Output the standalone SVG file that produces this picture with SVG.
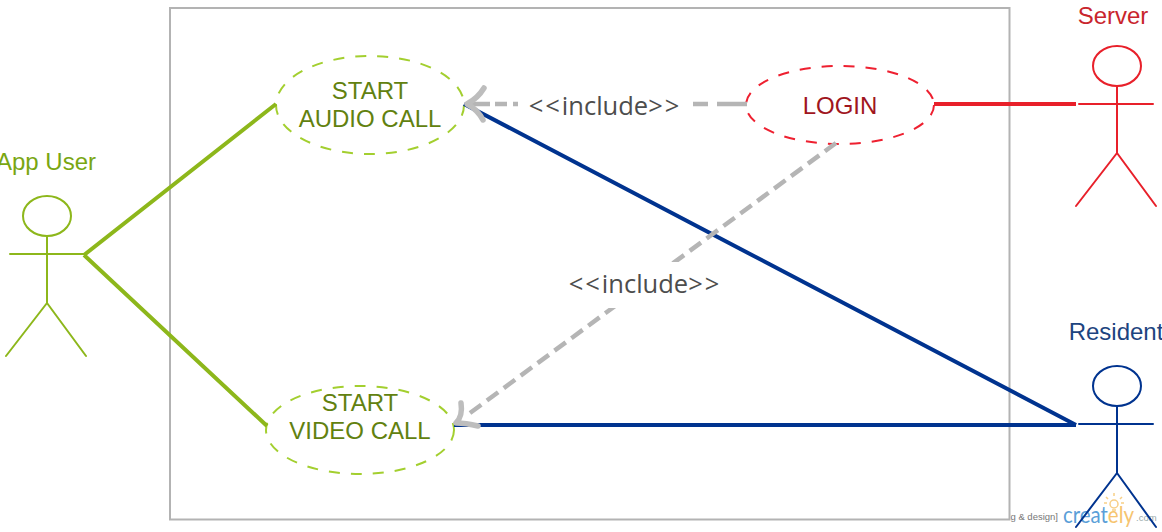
<svg xmlns="http://www.w3.org/2000/svg" width="1162" height="532" viewBox="0 0 1162 532">
<defs><style>
.t{font-family:"Liberation Sans",Arial,sans-serif;font-size:24px;text-anchor:middle}
.g{fill:#62810f}.uc{fill:#fff;stroke:#a3cf2f;stroke-width:2;stroke-dasharray:11 11}
.inc{font-family:"Open Sans","Noto Sans",sans-serif;font-size:25.500px;fill:#4d4d4d;text-anchor:middle}
.ch{letter-spacing:2px}
.a{fill:none;stroke-width:2;stroke-linecap:round}
.dash{fill:none;stroke:#b5b5b5;stroke-width:4.500;stroke-dasharray:14 7}
.solid{fill:none;stroke:#b5b5b5;stroke-width:4.500}
.head{fill:none;stroke:#bdbdbd;stroke-width:5.500;stroke-linecap:round;stroke-linejoin:round}
</style></defs>
<rect width="1162" height="532" fill="#fff"/>
<g id="watermark">
<text x="1058" y="520" font-family="Liberation Sans,sans-serif" font-size="9.500" fill="#777" text-anchor="end">g &amp; design]</text>
<text x="1063" y="523" font-family="Lato,sans-serif" font-size="23" textLength="71" lengthAdjust="spacingAndGlyphs" fill="#5b9fd8">creat<tspan fill="#f6c46f">ely</tspan></text>
<text x="1136" y="521" font-family="Liberation Sans,sans-serif" font-size="9.500" fill="#9aa">.com</text>
<g fill="none" stroke="#f8cf86" stroke-width="1.500"><circle cx="1114" cy="504" r="4"/><path d="M1112 510h4M1114 493v3M1106 497l2 2M1122 497l-2 2M1104 503h3M1124 503h-3"/></g>
</g>
<g id="system"><rect x="170" y="8" width="839.500" height="511.500" fill="none" stroke="#b3b3b3" stroke-width="2"/></g>
<g id="uc-audio"><ellipse class="uc" cx="370" cy="105" rx="94" ry="49"/><text class="t g" x="370" y="99">START</text><text class="t g" x="370" y="127">AUDIO CALL</text></g>
<g id="uc-video"><ellipse class="uc" cx="360" cy="430" rx="94" ry="44"/><text class="t g" x="360" y="411">START</text><text class="t g" x="360" y="439">VIDEO CALL</text></g>
<g id="uc-login"><ellipse cx="840" cy="105" rx="94" ry="39" fill="#fff" stroke="#ee2030" stroke-width="2" stroke-dasharray="11 11"/><text class="t" x="840" y="114" fill="#a01520">LOGIN</text></g>
<g id="connectors">
<path d="M84 255L276 104M84 255L267 426" fill="none" stroke="#8db71b" stroke-width="4"/>
<path d="M934 104H1076" fill="none" stroke="#e8202a" stroke-width="4"/>
<path d="M464 104L1076 425M454 425H1076" fill="none" stroke="#00338f" stroke-width="4"/>
<path class="solid" d="M467 104H490M495 104H507M513 104H518M693 104H708M717 104H747"/>
<path class="dash" d="M470 413L836 143"/>
<path class="head" d="M484 88Q478 98 467 104Q478 110 483 120"/>
<path class="head" d="M461 403Q463 416 456 423Q466 423 478 426"/>
<rect x="566" y="262" width="158" height="46" fill="#fff"/>
<text class="inc" x="605" y="114.500"><tspan class="ch">&lt;&lt;</tspan>include<tspan class="ch">&gt;&gt;</tspan></text>
<text class="inc" x="645" y="293"><tspan class="ch">&lt;&lt;</tspan>include<tspan class="ch">&gt;&gt;</tspan></text>
</g>
<g id="actor-user"><text class="t" x="46" y="170" fill="#79a612">App User</text><g class="a" stroke="#8db71b"><ellipse cx="47" cy="216" rx="24" ry="20"/><path d="M47 236V303M10 254H84M47 303L6 356M47 303L86 356"/></g></g>
<g id="actor-server"><text class="t" x="1113" y="24" fill="#c9252d">Server</text><g class="a" stroke="#e8202a"><ellipse cx="1117" cy="66" rx="24" ry="20"/><path d="M1117 86V153M1079 104H1153M1117 153L1076 206M1117 153L1156 206"/></g></g>
<g id="actor-resident"><text class="t" x="1116" y="340" fill="#1d4480">Resident</text><g class="a" stroke="#00338f"><ellipse cx="1117" cy="386" rx="24" ry="20"/><path d="M1117 406V473M1079 424H1153M1117 473L1076 527M1117 473L1156 527"/></g></g>
</svg>
